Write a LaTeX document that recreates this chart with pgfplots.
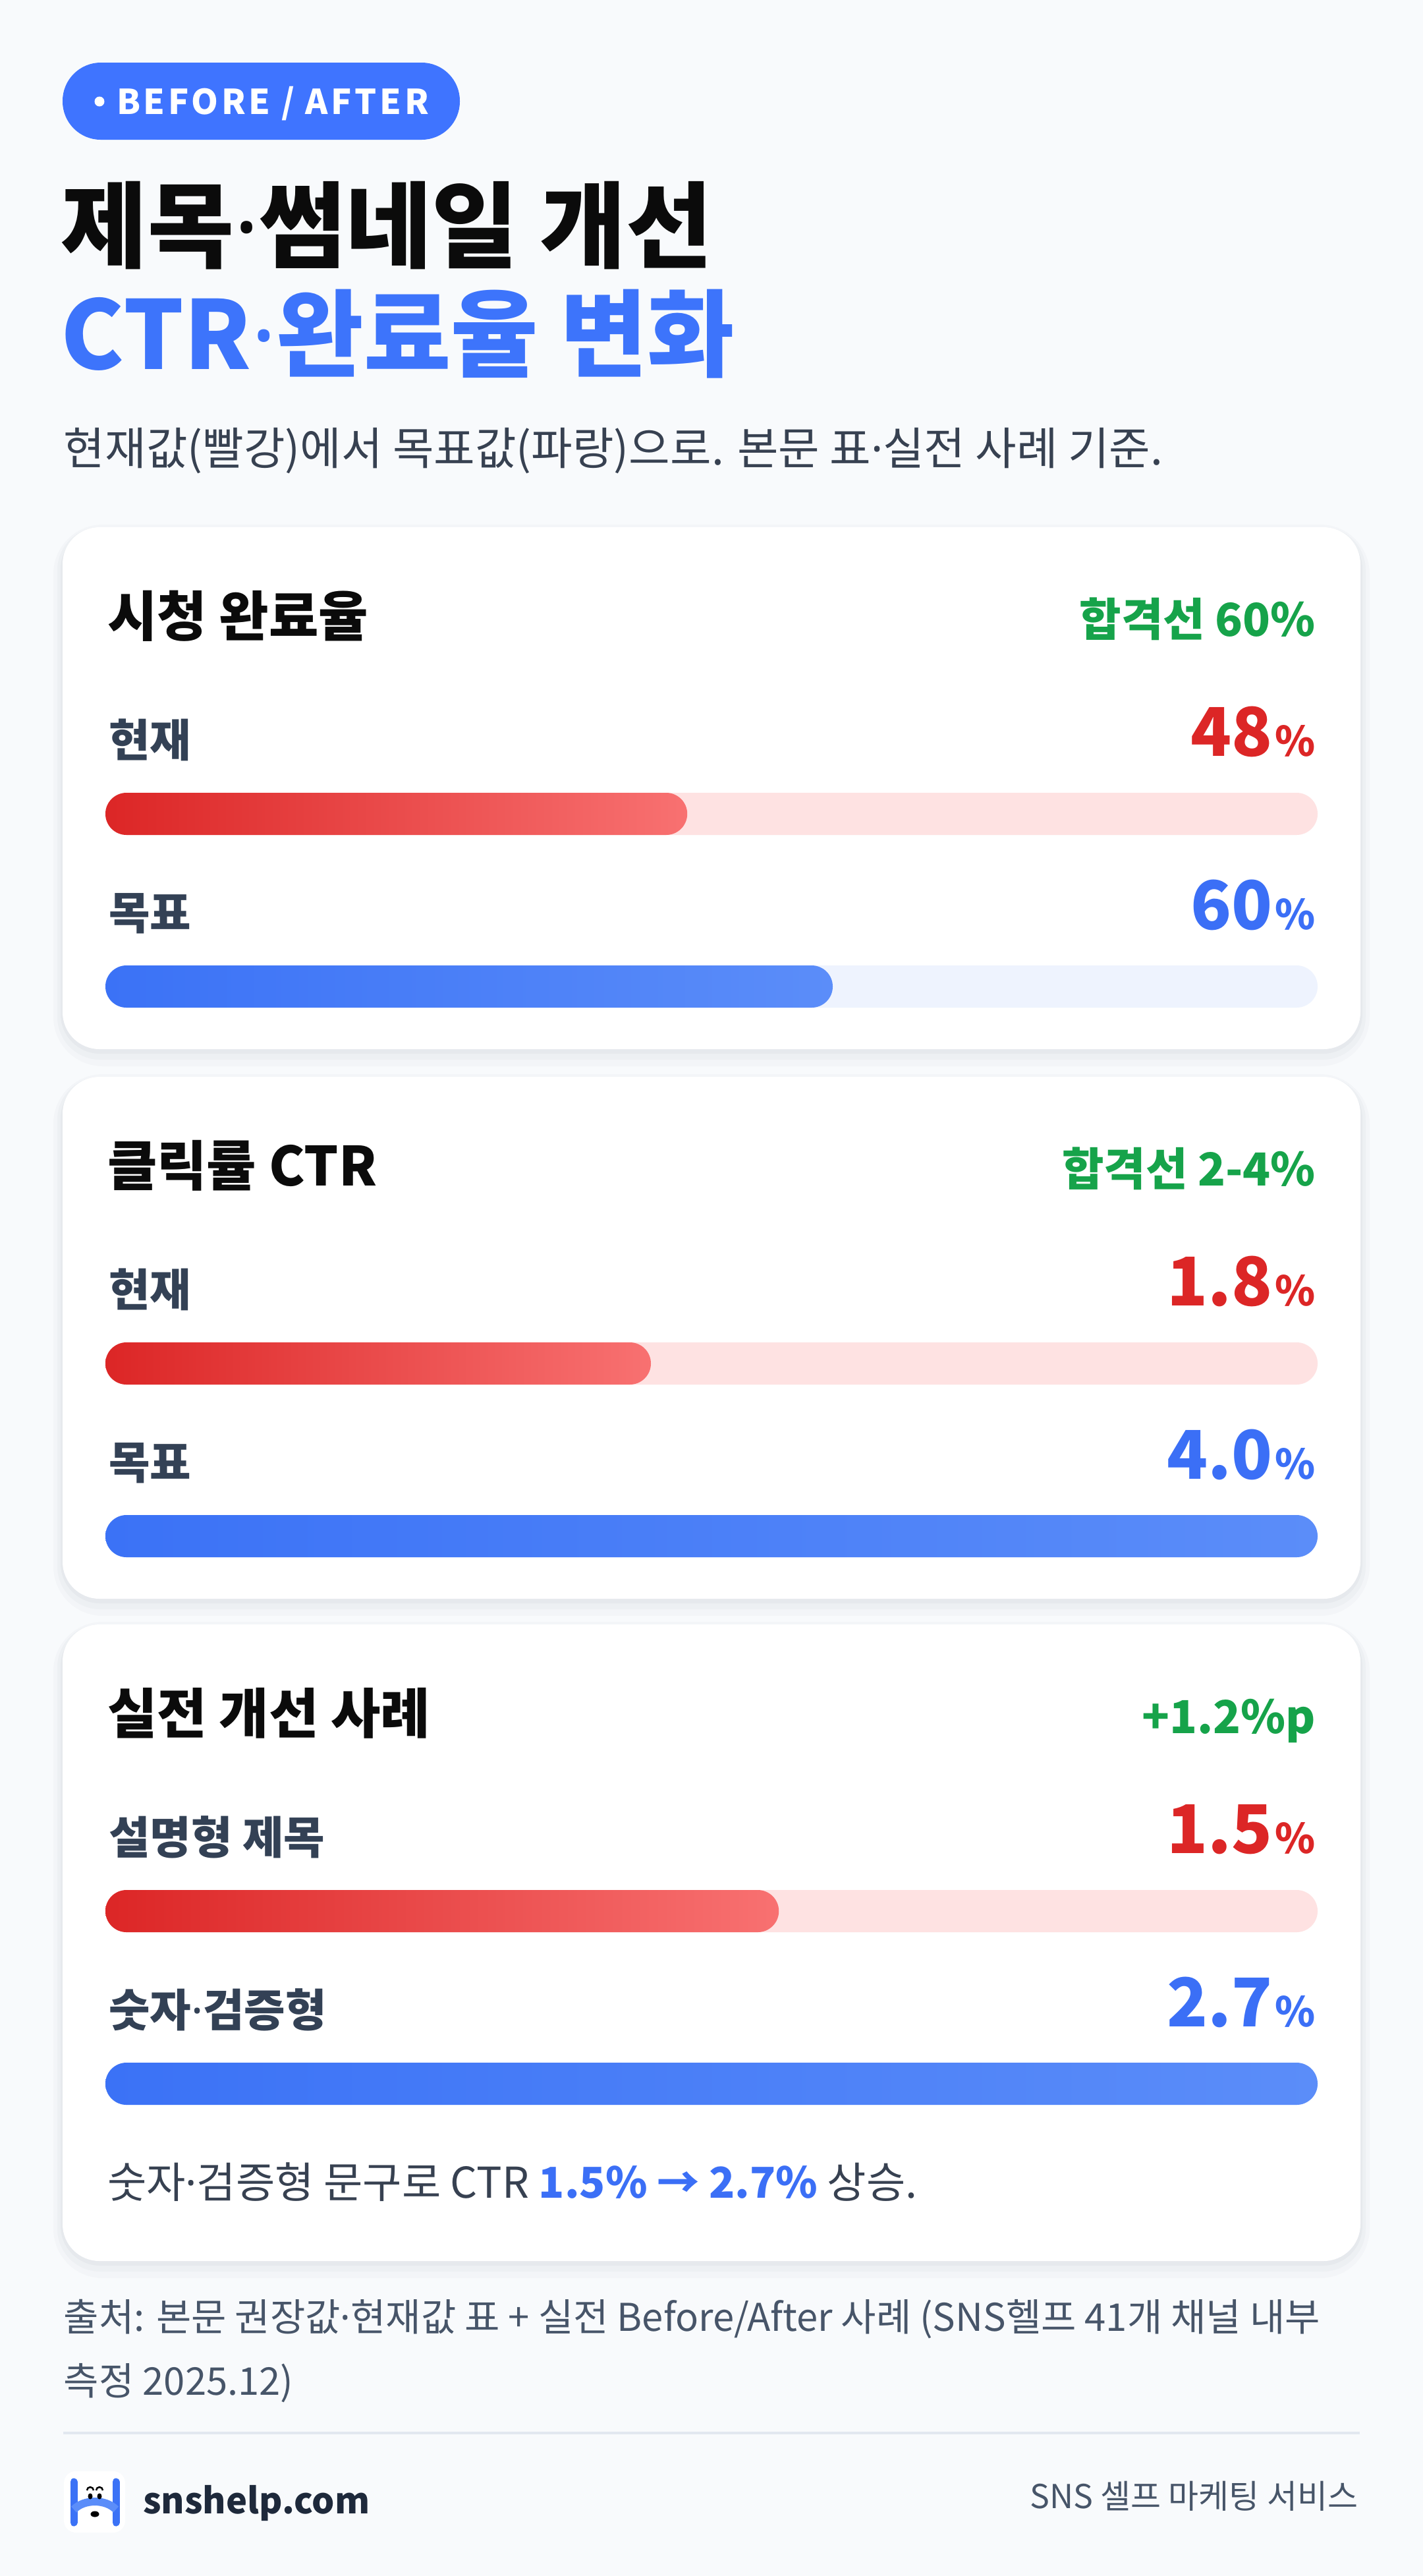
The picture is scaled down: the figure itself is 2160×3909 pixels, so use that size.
\documentclass[border=0pt]{standalone}
\usepackage{fontspec}
\setmainfont{Noto Sans CJK KR}
\newfontfamily\krblack{Noto Sans CJK KR Black}
\newfontfamily\latinf{Noto Sans}
\newcommand{\md}{{\latinf ·}}
\usepackage{pgfplots}
\pgfplotsset{compat=1.18}

\definecolor{bg}{HTML}{F8FAFC}
\definecolor{pill}{HTML}{3F74FF}
\definecolor{ttlblack}{HTML}{0B0B0B}
\definecolor{ttlblue}{HTML}{3D74FB}
\definecolor{subt}{HTML}{374151}
\definecolor{lbl}{HTML}{334155}
\definecolor{grn}{HTML}{16A34A}
\definecolor{redv}{HTML}{DC2626}
\definecolor{bluev}{HTML}{3B6FF6}
\definecolor{redL}{HTML}{DC2626}
\definecolor{redR}{HTML}{F87171}
\definecolor{redT}{HTML}{FEE2E2}
\definecolor{blueL}{HTML}{3B72F6}
\definecolor{blueR}{HTML}{5B8DF9}
\definecolor{blueT}{HTML}{EEF3FE}
\definecolor{foot}{HTML}{475569}
\definecolor{logoTxt}{HTML}{1E293B}
\definecolor{sep}{HTML}{E2E8F0}
\definecolor{shadow}{HTML}{1E293B}

\newcommand{\cardbox}[2]{%
  \fill[shadow, opacity=0.018, rounded corners=15pt] (81,#1-4) rectangle (2079,#2+26);
  \fill[shadow, opacity=0.022, rounded corners=13pt] (87,#1) rectangle (2073,#2+16);
  \fill[shadow, opacity=0.03, rounded corners=12pt] (92,#1+3) rectangle (2068,#2+7);
  \fill[white, rounded corners=11.2pt] (95,#1) rectangle (2065,#2);
}

% #1 top (px), #2 xmax, #3 current value, #4 target value
\newcommand{\cardbars}[4]{%
  \begin{scope}[x=1pt, y=1pt]
  \begin{axis}[at={(32pt,{-(#1+697)*0.2pt})}, anchor=south west,
    scale only axis, width=368pt, height=52.4pt, hide axis,
    xmin=0, xmax=#2, ymin=0, ymax=1, clip=false, enlargelimits=false]
    \addplot[xbar, bar width=12.8pt, bar shift=0pt, draw=none, fill=redT, rounded corners=6.4pt] coordinates {(#2,1)};
    \addplot[xbar, bar width=12.8pt, bar shift=0pt, draw=none, fill=blueT, rounded corners=6.4pt] coordinates {(#2,0)};
    \addplot[xbar, bar width=12.8pt, bar shift=0pt, draw=none, left color=redL, right color=redR, rounded corners=6.4pt] coordinates {(#3,1)};
    \addplot[xbar, bar width=12.8pt, bar shift=0pt, draw=none, left color=blueL, right color=blueR, rounded corners=6.4pt] coordinates {(#4,0)};
  \end{axis}%
  \end{scope}%
}

\newcommand{\bigval}[2]{{\fontsize{20.4pt}{21pt}\krblack\color{#1}#2}\hspace{0.8pt}{\fontsize{12.4pt}{13pt}\bfseries\color{#1}\%}}
\newcommand{\lblfont}{\fontsize{13.6pt}{14pt}\bfseries}
\newcommand{\cttl}{\fontsize{16.4pt}{17pt}\bfseries}
\newcommand{\gfont}{\fontsize{13.8pt}{14pt}\bfseries}

\begin{document}
\begin{tikzpicture}[x=0.2pt, y=-0.2pt]
\fill[bg] (0,0) rectangle (2160,3909);

% pill
\fill[pill, rounded corners=11.6pt] (95,95) rectangle (698,212);
\fill[white] (151,154) circle (1.5pt);
\node[anchor=base west, inner sep=0pt, text=white] at (176,173)
  {\fontsize{10.4pt}{11pt}\bfseries\addfontfeatures{LetterSpace=9}BEFORE / AFTER};

% titles
\node[anchor=base west, inner sep=0pt, text=ttlblack] at (92,395)
  {\fontsize{28.5pt}{29pt}\krblack 제목{\bfseries\md}썸네일 개선};
\node[anchor=base west, inner sep=0pt, text=ttlblue] at (92,560)
  {\fontsize{28.8pt}{29pt}\krblack CTR{\bfseries\md}완료율 변화};
\node[anchor=base west, inner sep=0pt, text=subt] at (96,705)
  {\fontsize{13.6pt}{14pt}\selectfont 현재값(빨강)에서 목표값(파랑)으로. 본문 표\md 실전 사례 기준.};

% ---------- card 1
\cardbox{800}{1592}
\node[anchor=base west, inner sep=0pt, text=ttlblack] at (162,965) {\cttl 시청 완료율};
\node[anchor=base east, inner sep=0pt, text=grn] at (1998,965) {\gfont 합격선 60\%};
\node[anchor=base west, inner sep=0pt, text=lbl] at (164,1148) {\lblfont 현재};
\node[anchor=base east, inner sep=0pt] at (1998,1147) {\bigval{redv}{48}};
\node[anchor=base west, inner sep=0pt, text=lbl] at (164,1410) {\lblfont 목표};
\node[anchor=base east, inner sep=0pt] at (1998,1410) {\bigval{bluev}{60}};
\cardbars{800}{100}{48}{60}

% ---------- card 2
\cardbox{1634}{2426}
\node[anchor=base west, inner sep=0pt, text=ttlblack] at (162,1799) {\cttl 클릭률 CTR};
\node[anchor=base east, inner sep=0pt, text=grn] at (1998,1799) {\gfont 합격선 2-4\%};
\node[anchor=base west, inner sep=0pt, text=lbl] at (164,1982) {\lblfont 현재};
\node[anchor=base east, inner sep=0pt] at (1998,1981) {\bigval{redv}{1.8}};
\node[anchor=base west, inner sep=0pt, text=lbl] at (164,2244) {\lblfont 목표};
\node[anchor=base east, inner sep=0pt] at (1998,2244) {\bigval{bluev}{4.0}};
\cardbars{1634}{4}{1.8}{4.0}

% ---------- card 3
\cardbox{2465}{3431}
\node[anchor=base west, inner sep=0pt, text=ttlblack] at (162,2630) {\cttl 실전 개선 사례};
\node[anchor=base east, inner sep=0pt, text=grn] at (1998,2630) {\gfont +1.2\%p};
\node[anchor=base west, inner sep=0pt, text=lbl] at (164,2813) {\lblfont 설명형 제목};
\node[anchor=base east, inner sep=0pt] at (1998,2812) {\bigval{redv}{1.5}};
\node[anchor=base west, inner sep=0pt, text=lbl] at (164,3075) {\lblfont 숫자{\bfseries\md}검증형};
\node[anchor=base east, inner sep=0pt] at (1998,3075) {\bigval{bluev}{2.7}};
\cardbars{2465}{2.7}{1.5}{2.7}
\node[anchor=base west, inner sep=0pt, text=subt] at (162,3335)
  {\fontsize{12.9pt}{13pt}\selectfont 숫자\md 검증형 문구로 CTR {\bfseries\color{bluev}1.5\% → 2.7\%} 상승.};

% ---------- footer
\node[anchor=base west, inner sep=0pt, text=foot] at (96,3537)
  {\fontsize{11.6pt}{12pt}\selectfont 출처: 본문 권장값\md 현재값 표 + 실전 Before/After 사례 (SNS헬프 41개 채널 내부};
\node[anchor=base west, inner sep=0pt, text=foot] at (96,3634)
  {\fontsize{11.6pt}{12pt}\selectfont 측정 2025.12)};
\draw[sep, line width=0.8pt] (96,3692) -- (2064,3692);

% logo
\fill[white, rounded corners=3.6pt] (97,3750) rectangle (190,3843);
\draw[blueL, line width=2.2pt, line cap=round] (112,3766) -- (112,3828);
\draw[blueL, line width=2.2pt, line cap=round] (176,3766) -- (176,3828);
\draw[blueR, line width=2.4pt] (112,3808) .. controls (128,3792) and (160,3792) .. (176,3808);
\fill[black] (137,3788) ellipse (0.7pt and 0.9pt);
\fill[black] (151,3788) ellipse (0.7pt and 0.9pt);
\draw[black, line width=0.5pt] (132,3779) arc (180:0:1pt);
\draw[black, line width=0.5pt] (146,3779) arc (180:0:1pt);
\fill[black] (144,3815) ellipse (1.3pt and 0.9pt);
\node[anchor=base west, inner sep=0pt, text=logoTxt] at (216,3814)
  {\fontsize{10.8pt}{11pt}\bfseries snshelp.com};
\node[anchor=base east, inner sep=0pt, text=foot] at (2062,3806)
  {\fontsize{10pt}{10pt}\selectfont SNS 셀프 마케팅 서비스};

\pgfresetboundingbox
\useasboundingbox (0,0) rectangle (2160,3909);
\end{tikzpicture}
\end{document}
